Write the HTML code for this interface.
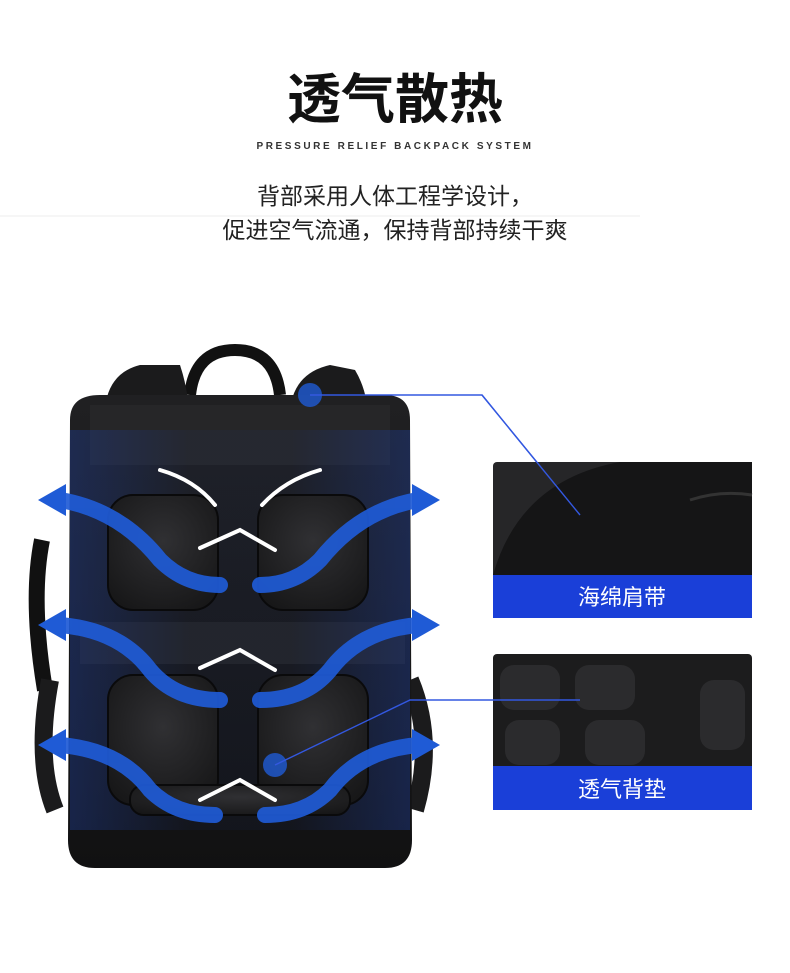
<!DOCTYPE html>
<html><head><meta charset="utf-8"><style>
body{margin:0;background:#fff;width:790px;height:968px;overflow:hidden;font-family:"Liberation Sans","Noto Sans CJK SC",sans-serif;}
</style></head><body>
<svg width="790" height="968" viewBox="0 0 790 968" xmlns="http://www.w3.org/2000/svg">
<defs>
<linearGradient id="bag" x1="0" y1="0" x2="0" y2="1"><stop offset="0" stop-color="#202022"/><stop offset="1" stop-color="#111112"/></linearGradient>
<linearGradient id="glow" x1="0" y1="0" x2="1" y2="0"><stop offset="0" stop-color="#1e3a8a" stop-opacity=".45"/><stop offset=".35" stop-color="#1e3a8a" stop-opacity=".08"/><stop offset=".65" stop-color="#1e3a8a" stop-opacity=".08"/><stop offset="1" stop-color="#1e3a8a" stop-opacity=".45"/></linearGradient>
<radialGradient id="pad" cx=".5" cy=".4" r=".7"><stop offset="0" stop-color="#303033"/><stop offset="1" stop-color="#161617"/></radialGradient>
</defs>
<rect width="790" height="968" fill="#fff"/>
<text x="395" y="118" text-anchor="middle" font-size="54" font-weight="bold" fill="#111" font-family="Liberation Sans,Noto Sans CJK SC,sans-serif">透气散热</text>
<text x="395" y="149" text-anchor="middle" font-size="10" font-weight="bold" letter-spacing="2.6" fill="#333">PRESSURE  RELIEF  BACKPACK  SYSTEM</text>
<line x1="0" y1="216" x2="640" y2="216" stroke="#eee" stroke-width="1"/>
<text x="395" y="204" text-anchor="middle" font-size="23" fill="#222" font-family="Liberation Sans,Noto Sans CJK SC,sans-serif">背部采用人体工程学设计，</text>
<text x="395" y="238" text-anchor="middle" font-size="23" fill="#222" font-family="Liberation Sans,Noto Sans CJK SC,sans-serif">促进空气流通，保持背部持续干爽</text>

<path d="M190 395 Q195 350 235 350 Q275 350 280 395" fill="none" stroke="#111" stroke-width="12"/>
<path d="M105 430 Q100 375 140 365 L180 365 Q190 395 190 430 Z" fill="#1b1b1c"/>
<path d="M290 430 Q285 375 330 365 L355 370 Q370 395 368 430 Z" fill="#1b1b1c"/>
<path d="M42 540 Q30 600 45 690" stroke="#111" stroke-width="16" fill="none"/>
<path d="M50 680 Q35 760 55 810" stroke="#1b1b1c" stroke-width="18" fill="none"/>
<path d="M410 680 Q435 740 415 810" stroke="#1b1b1c" stroke-width="18" fill="none"/>
<path d="M70 420 Q70 395 100 395 L385 395 Q410 395 410 420 L412 840 Q412 868 385 868 L95 868 Q68 868 68 840 Z" fill="url(#bag)"/>
<rect x="90" y="405" width="300" height="60" fill="#262628"/>
<rect x="80" y="622" width="325" height="42" fill="#232325"/>
<rect x="70" y="430" width="340" height="400" fill="url(#glow)"/>
<g fill="url(#pad)" stroke="#0a0a0b" stroke-width="2">
<rect x="108" y="495" width="110" height="115" rx="25"/>
<rect x="258" y="495" width="110" height="115" rx="25"/>
<rect x="108" y="675" width="110" height="130" rx="25"/>
<rect x="258" y="675" width="110" height="130" rx="25"/>
<rect x="130" y="785" width="220" height="30" rx="14"/>
</g>
<g fill="none" stroke="#1f5bd6" stroke-width="16" stroke-linecap="round" opacity=".92">
<path d="M60 500 Q120 510 160 560 Q185 585 220 585"/>
<path d="M418 500 Q360 510 320 560 Q295 585 260 585"/>
<path d="M60 625 Q120 630 150 670 Q175 700 220 700"/>
<path d="M418 625 Q360 630 330 670 Q305 700 260 700"/>
<path d="M60 745 Q120 750 150 790 Q175 815 215 815"/>
<path d="M418 745 Q360 750 330 790 Q305 815 265 815"/>
</g>
<g fill="#1f5bd6">
<polygon points="38,500 66,484 66,516"/><polygon points="440,500 412,484 412,516"/>
<polygon points="38,625 66,609 66,641"/><polygon points="440,625 412,609 412,641"/>
<polygon points="38,745 66,729 66,761"/><polygon points="440,745 412,729 412,761"/>
</g>
<g fill="none" stroke="#fff" stroke-width="4" stroke-linecap="round">
<path d="M160 470 Q195 480 215 505"/><path d="M320 470 Q285 480 262 505"/>
<path d="M200 548 L240 530 L275 550"/>
<path d="M200 668 L240 650 L275 670"/>
<path d="M200 800 L240 780 L275 800"/>
</g>
<circle cx="310" cy="395" r="12" fill="#1f5bd6" opacity=".8"/>
<polyline points="310,395 482,395 580,515" fill="none" stroke="#3358e0" stroke-width="1.4"/>
<circle cx="275" cy="765" r="12" fill="#1f5bd6" opacity=".8"/>
<polyline points="275,765 410,700 580,700" fill="none" stroke="#3358e0" stroke-width="1.4"/>
<rect x="493" y="462" width="259" height="156" rx="4" fill="#262628"/>
<path d="M493 575 Q520 480 620 462 L752 462 L752 575 Z" fill="#151516"/>
<path d="M690 500 Q720 490 752 495" stroke="#333" stroke-width="3" fill="none"/>
<polyline points="482,395 580,515" fill="none" stroke="#3358e0" stroke-width="1.4"/>
<rect x="493" y="575" width="259" height="43" fill="#1a3fd8"/>
<text x="622" y="605" text-anchor="middle" font-size="22" fill="#fff" font-family="Liberation Sans,Noto Sans CJK SC,sans-serif">海绵肩带</text>
<rect x="493" y="654" width="259" height="156" rx="4" fill="#1c1c1d"/>
<g fill="#2b2b2d"><rect x="500" y="665" width="60" height="45" rx="14"/><rect x="575" y="665" width="60" height="45" rx="14"/><rect x="700" y="680" width="45" height="70" rx="14"/><rect x="505" y="720" width="55" height="45" rx="14"/><rect x="585" y="720" width="60" height="45" rx="14"/></g>
<polyline points="493,700 580,700" fill="none" stroke="#3358e0" stroke-width="1.4"/>
<rect x="493" y="766" width="259" height="44" fill="#1a3fd8"/>
<text x="622" y="797" text-anchor="middle" font-size="22" fill="#fff" font-family="Liberation Sans,Noto Sans CJK SC,sans-serif">透气背垫</text>
</svg>
</body></html>
